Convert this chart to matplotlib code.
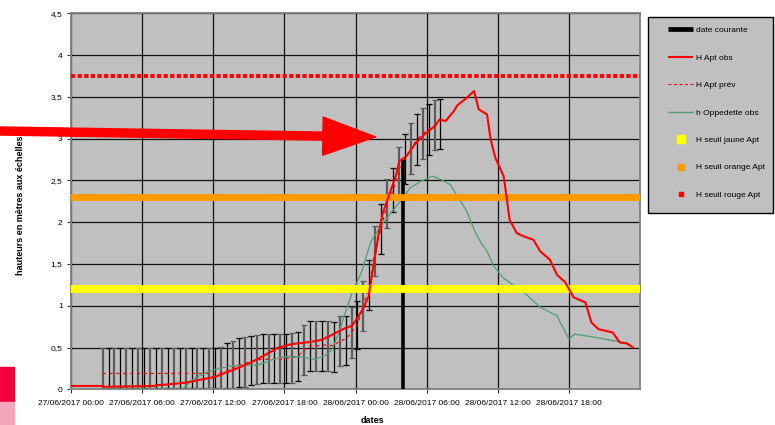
import numpy as np
import pandas as pd
import matplotlib
matplotlib.use("Agg")
import matplotlib.pyplot as plt
import matplotlib.dates as mdates
from matplotlib.lines import Line2D
from matplotlib.patches import Rectangle

plt.rcParams['font.family'] = ['Liberation Sans', 'DejaVu Sans']

# Hauteurs observees a Apt (heures depuis le 27/06/2017 00:00, metres)
obs_apt_h = [0.0, 2.7, 2.8, 7.0, 7.3, 8.3, 9.7, 11.1, 12.2, 13.05, 14.0, 15.3, 16.5,
             17.5, 18.6, 19.2, 20.3, 21.1, 22.0, 23.1, 23.7, 24.2, 24.7, 25.1, 25.6,
             26.0, 26.3, 26.9, 27.4, 27.7, 28.3, 29.0, 29.8, 30.7, 31.1, 31.6, 32.3,
             32.6, 33.4, 34.0, 34.4, 35.1, 35.4, 35.8, 36.5, 36.7, 37.0, 37.6, 38.2,
             39.0, 39.6, 40.4, 41.0, 41.7, 42.4, 43.4, 43.9, 44.5, 45.7, 46.3, 46.9, 47.4]
obs_apt_v = [0.04, 0.04, 0.03, 0.04, 0.05, 0.06, 0.08, 0.12, 0.15, 0.20, 0.25, 0.33, 0.42,
             0.50, 0.54, 0.55, 0.57, 0.59, 0.65, 0.73, 0.76, 0.86, 0.98, 1.11, 1.55,
             1.90, 2.11, 2.35, 2.55, 2.73, 2.79, 2.93, 3.05, 3.15, 3.23, 3.21, 3.33,
             3.40, 3.49, 3.57, 3.35, 3.29, 2.99, 2.77, 2.55, 2.35, 2.03, 1.87, 1.83,
             1.79, 1.65, 1.55, 1.37, 1.28, 1.10, 1.04, 0.80, 0.72, 0.68, 0.56, 0.55, 0.50]

# Hauteurs observees a Oppedette
obs_opp_h = [0.0, 9.4, 10.3, 11.4, 12.5, 13.6, 14.7, 15.8, 17.1, 18.1, 19.2, 20.6, 21.4,
             22.0, 22.6, 23.1, 23.7, 24.5, 25.3, 26.2, 27.0, 27.9, 28.6, 29.5, 30.5,
             31.2, 32.0, 32.6, 33.4, 34.0, 34.6, 35.1, 35.6, 36.4, 37.2, 38.2, 39.6,
             41.0, 42.0, 42.5, 44.3, 46.6, 47.4]
obs_opp_v = [0.0, 0.0, 0.12, 0.20, 0.25, 0.28, 0.29, 0.29, 0.36, 0.39, 0.39, 0.36, 0.40,
             0.47, 0.68, 0.90, 1.15, 1.40, 1.77, 1.97, 2.11, 2.27, 2.41, 2.49, 2.55,
             2.51, 2.45, 2.31, 2.13, 1.91, 1.75, 1.65, 1.49, 1.34, 1.26, 1.16, 0.98,
             0.88, 0.60, 0.66, 0.62, 0.56, 0.51]

# Prevision Apt (pas de 30 min) avec bornes basse / haute
prev_start = '2017-06-27 02:40'
prev_v = [0.19] * 20 + [0.20, 0.23, 0.26, 0.29, 0.31, 0.33, 0.35, 0.36, 0.36, 0.36,
                        0.36, 0.37, 0.38, 0.40, 0.47, 0.52, 0.52, 0.53, 0.53, 0.52,
                        0.58, 0.60, 0.68, 0.77, 1.00, 1.25, 1.66, 1.92, 2.22, 2.38,
                        2.60, 2.76, 2.88, 2.99, 3.06, 3.11, 3.16, 3.18]
prev_hi = [0.49] * 20 + [0.51, 0.55, 0.58, 0.61, 0.63, 0.64, 0.65, 0.66, 0.66, 0.66,
                         0.66, 0.66, 0.67, 0.69, 0.77, 0.82, 0.82, 0.82, 0.82, 0.81,
                         0.875, 0.88, 0.99, 1.06, 1.30, 1.55, 1.96, 2.22, 2.52, 2.65,
                         2.90, 3.06, 3.19, 3.29, 3.37, 3.41, 3.46, 3.48]
prev_lo = [0.02] * 20 + [0.02, 0.02, 0.02, 0.03, 0.03, 0.05, 0.06, 0.07, 0.07, 0.07,
                         0.07, 0.07, 0.08, 0.10, 0.17, 0.22, 0.22, 0.22, 0.22, 0.21,
                         0.28, 0.29, 0.38, 0.48, 0.70, 0.95, 1.36, 1.62, 1.93, 2.12,
                         2.31, 2.46, 2.58, 2.69, 2.76, 2.81, 2.86, 2.88]

date_courante = '2017-06-28 04:00'
h_courante = 2.75

seuil_jaune = 1.2
seuil_orange = 2.3
seuil_rouge = 3.75

arrow_tip = ('2017-06-28 01:42', 3.02)

t0 = pd.Timestamp('2017-06-27 00:00')
t_apt = t0 + pd.to_timedelta(obs_apt_h, unit='h')
t_opp = t0 + pd.to_timedelta(obs_opp_h, unit='h')
t_prev = pd.date_range(prev_start, periods=len(prev_v), freq='30min')
prev_v = np.array(prev_v)
err = np.vstack([prev_v - np.array(prev_lo), np.array(prev_hi) - prev_v])

fig = plt.figure(figsize=(7.75, 4.25), dpi=100)
ax = fig.add_axes([71 / 775, 1 - 389.3 / 425, 569 / 775, 376 / 425])
ax.set_facecolor('#c0c0c0')

ax.grid(True, color='#111111', lw=0.9)
ax.set_axisbelow(True)

# barres d'incertitude (alternance gris / noir comme sur l'original)
for sl, col, lw in [(slice(0, None, 2), '#5c5c5c', 1.6), (slice(1, None, 2), 'black', 0.9)]:
    ax.errorbar(t_prev[sl], prev_v[sl], yerr=err[:, sl], fmt='none', ecolor=col,
                elinewidth=lw, capsize=1.9, capthick=0.9, zorder=2)

ax.plot(t_prev, prev_v, color='red', lw=0.9, ls=(0, (2.5, 3)), zorder=3)
ax.plot(t_opp, obs_opp_v, color='#4f9e74', lw=0.9, zorder=3)
ax.vlines(pd.Timestamp(date_courante), 0, h_courante, color='black', lw=2.6, zorder=3)

ax.axhline(seuil_jaune, color='#ffff00', lw=5.8, zorder=4)
ax.axhline(seuil_orange, color='#ff9900', lw=5.0, zorder=4)
ax.axhline(seuil_rouge, color='#ff0000', lw=2.8, ls=(0, (1.1, 0.6)), zorder=4)

ax.plot(t_apt, obs_apt_v, color='#ff0000', lw=1.5, zorder=5)

ax.set_xlim(t0, t0 + pd.Timedelta(hours=48))
ax.set_ylim(0, 4.5)
ax.set_yticks(np.arange(0, 4.51, 0.5))
ax.yaxis.set_major_formatter(plt.FuncFormatter(lambda v, p: f'{v:g}'.replace('.', ',')))
ax.set_xticks(pd.date_range(t0, periods=8, freq='6h'))
ax.xaxis.set_major_formatter(mdates.DateFormatter('%d/%m/%Y %H:%M'))
ax.tick_params(axis='both', labelsize=6, length=3, width=0.8, color='#333333', pad=3)
ax.tick_params(axis='x', pad=5)
for s in ax.spines.values():
    s.set_color('#808080')
    s.set_linewidth(1.3)

ax.set_ylabel('hauteurs en mètres aux échelles', fontsize=6.5, fontweight='bold')
ax.yaxis.set_label_coords(-0.081, 0.49)
ax.set_xlabel('dates', fontsize=6.5, fontweight='bold')
ax.xaxis.set_label_coords(0.529, -0.07)

# legende
fig.patches.append(Rectangle((648 / 775, 1 - 213 / 425), 125 / 775, 196.3 / 425,
                             transform=fig.transFigure, facecolor='#c0c0c0',
                             edgecolor='black', lw=1.0, zorder=1))
handles = [
    Line2D([], [], color='black', lw=3.4, solid_capstyle='butt'),
    Line2D([], [], color='red', lw=1.5, solid_capstyle='butt'),
    Line2D([], [], color='red', lw=0.8, ls=(0, (2.5, 2.5))),
    Line2D([], [], color='#4f9e74', lw=1.0, solid_capstyle='butt'),
    Line2D([], [], color='#ffff00', marker='s', ls='none', ms=6),
    Line2D([], [], color='#ff9900', marker='s', ls='none', ms=4.5),
    Line2D([], [], color='#ff0000', marker='s', ls='none', ms=3),
]
labels = ['date courante', 'H Apt obs', 'H Apt prév', 'h Oppedette obs',
          'H seuil jaune Apt', 'H seuil orange Apt', 'H seuil rouge Apt']
leg = fig.legend(handles, labels, loc='upper left', bbox_to_anchor=(668 / 775, 1 - 26.5 / 425),
                 frameon=False, borderpad=0, borderaxespad=0, fontsize=6,
                 handlelength=3.0, handletextpad=0.4, labelspacing=2.35)
leg.set_zorder(2)

# fleche rouge
ax.annotate('', xy=(pd.Timestamp(arrow_tip[0]), arrow_tip[1]), xycoords='data',
            xytext=(0, 1 - 131 / 425), textcoords='figure fraction',
            arrowprops=dict(arrowstyle='simple,head_length=38,head_width=27.5,tail_width=5.8',
                            mutation_scale=1, color='#ff0000', shrinkA=0, shrinkB=0),
            annotation_clip=False, zorder=10)

# taches de couleur en bas a gauche
fig.patches.append(Rectangle((0, 1 - 402 / 425), 14 / 775, 35 / 425,
                             transform=fig.transFigure, color='#f0003c', zorder=1))
fig.patches.append(Rectangle((0, 0), 14 / 775, 23 / 425,
                             transform=fig.transFigure, color='#f2a6bc', zorder=1))

fig.savefig('out.png', dpi=100, facecolor='white')
